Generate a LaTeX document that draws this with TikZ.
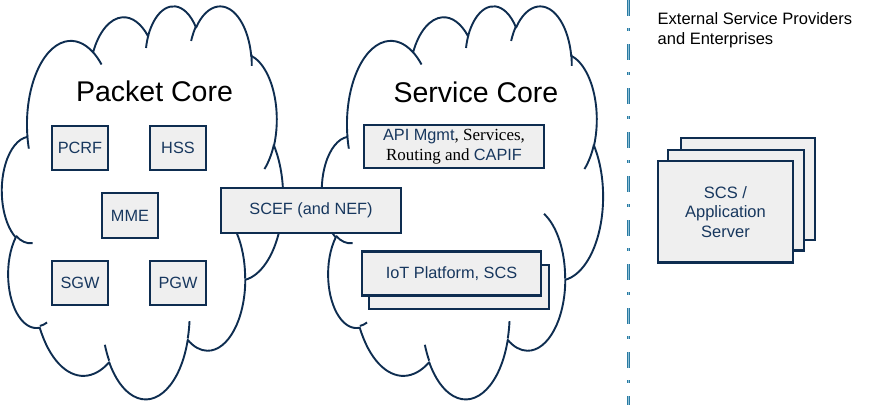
\documentclass[tikz,border=0pt]{standalone}
\usepackage{fontspec}
\setmainfont{Liberation Serif}
\setsansfont{Liberation Sans}
\definecolor{navy}{HTML}{0E2D50}
\definecolor{navytext}{HTML}{17375E}
\definecolor{boxfill}{HTML}{EFEFEF}
\definecolor{sepblue}{HTML}{2A7BA2}
\definecolor{seplight}{HTML}{8FC0D8}
\newcommand\cldprep[5]{%
  \pgfmathsetmacro\cldtmpa{atan2((#2)*sin(#4),(#3)*cos(#4))}%
  \pgfmathsetmacro\cldtmpb{atan2((#2)*sin(#4+(#5)),(#3)*cos(#4+(#5)))}%
  \pgfmathsetmacro\cldtmpd{\cldtmpb-(\cldtmpa)}%
  \pgfmathsetmacro\cldtmpd{\cldtmpd+360*round(((#5)-(\cldtmpd))/360)}%
  \expandafter\xdef\csname clds#1\endcsname{\cldtmpa}%
  \expandafter\xdef\csname cldd#1\endcsname{\cldtmpd}%
}
\cldprep{A}{6.753}{9.190}{-190.4874833}{123.7805333}
\cldprep{B}{5.333}{7.267}{-144.1023833}{89.9452333}
\cldprep{C}{4.365}{5.945}{-145.8079167}{99.7230167}
\cldprep{D}{4.857}{6.595}{-130.9860667}{117.2417333}
\cldprep{E}{5.333}{7.273}{-78.7088833}{109.0269167}
\cldprep{F}{6.775}{9.220}{-46.26725}{130.269}
\cldprep{G}{5.785}{7.867}{0.6250167}{114.0333333}
\cldprep{H}{6.752}{9.215}{22.4516}{115.17255}
\cldprep{I}{7.720}{10.543}{66.2426333}{75.7110167}
\cldprep{J}{4.360}{5.918}{-274.9420833}{146.7355667}
\cldprep{K}{4.345}{5.945}{-246.8285}{152.51885}
\cldprep{L}{4.345}{5.945}{86.742}{26.4295}
\cldprep{M}{4.360}{5.918}{73.61047}{11.44747}
\cldprep{N}{6.752}{9.215}{137.62415}{14.0811}
\cldprep{O}{6.752}{9.215}{6.45327}{15.99835}
\cldprep{P}{5.785}{7.867}{-70.29235}{70.91737}
\cldprep{Q}{5.333}{7.273}{30.31803}{27.7515}
\cldprep{R}{4.857}{6.595}{-13.74433}{14.8589}
\cldprep{S}{4.857}{6.595}{-149.18145}{18.19537}
\cldprep{T}{4.365}{5.945}{-163.49427}{17.68635}
\cldprep{U}{6.753}{9.190}{-66.70695}{12.31935}
\cldprep{V}{6.753}{9.190}{157.65435}{11.85817}
\newcommand\drawcloud[2]{%
\begin{scope}[shift={(#1,#2)}, x=6.50463pt, y=-9.09722pt]
  \filldraw[cloudline, fill=white] (3.9,14.37)
    arc[start angle=\cldsA, delta angle=\clddA, x radius=6.753, y radius=9.190]
    arc[start angle=\cldsB, delta angle=\clddB, x radius=5.333, y radius=7.267]
    arc[start angle=\cldsC, delta angle=\clddC, x radius=4.365, y radius=5.945]
    arc[start angle=\cldsD, delta angle=\clddD, x radius=4.857, y radius=6.595]
    arc[start angle=\cldsE, delta angle=\clddE, x radius=5.333, y radius=7.273]
    arc[start angle=\cldsF, delta angle=\clddF, x radius=6.775, y radius=9.220]
    arc[start angle=\cldsG, delta angle=\clddG, x radius=5.785, y radius=7.867]
    arc[start angle=\cldsH, delta angle=\clddH, x radius=6.752, y radius=9.215]
    arc[start angle=\cldsI, delta angle=\clddI, x radius=7.720, y radius=10.543]
    arc[start angle=\cldsJ, delta angle=\clddJ, x radius=4.360, y radius=5.918]
    arc[start angle=\cldsK, delta angle=\clddK, x radius=4.345, y radius=5.945]
    -- cycle;
  \draw[cloudline]
    (4.693,26.177) arc[start angle=\cldsL, delta angle=\clddL, x radius=4.345, y radius=5.945]
    (6.928,34.899) arc[start angle=\cldsM, delta angle=\clddM, x radius=4.360, y radius=5.918]
    (16.478,39.090) arc[start angle=\cldsN, delta angle=\clddN, x radius=6.752, y radius=9.215]
    (28.827,34.751) arc[start angle=\cldsO, delta angle=\clddO, x radius=6.752, y radius=9.215]
    (34.129,22.954) arc[start angle=\cldsP, delta angle=\clddP, x radius=5.785, y radius=7.867]
    (41.798,15.354) arc[start angle=\cldsQ, delta angle=\clddQ, x radius=5.333, y radius=7.273]
    (38.324,5.426) arc[start angle=\cldsR, delta angle=\clddR, x radius=4.857, y radius=6.595]
    (29.078,3.952) arc[start angle=\cldsS, delta angle=\clddS, x radius=4.857, y radius=6.595]
    (22.141,4.720) arc[start angle=\cldsT, delta angle=\clddT, x radius=4.365, y radius=5.945]
    (14.000,5.192) arc[start angle=\cldsU, delta angle=\clddU, x radius=6.753, y radius=9.190]
    (4.127,15.789) arc[start angle=\cldsV, delta angle=\clddV, x radius=6.753, y radius=9.190];
\end{scope}}
\tikzset{
  cloudline/.style={draw=navy, line width=1.9pt, line join=round},
  nbox/.style={draw=navy, line width=2.2pt, fill=boxfill, text=navytext,
    font=\sffamily\fontsize{16.3}{19}\selectfont, inner sep=0pt, align=center},
  title/.style={font=\sffamily\fontsize{28.5}{32}\selectfont, text=black, inner sep=0pt},
}
\begin{document}
\begin{tikzpicture}[x=1pt, y=-1pt]
\useasboundingbox (0,0) rectangle (879,405);
\fill[white] (0,0) rectangle (879,405);
% clouds
\drawcloud{2}{5}
\drawcloud{322}{5}
% titles
\node[title] (pctitle) at (154.5,91) {Packet Core};
\node[title] (sctitle) at (476,92) {Service Core};
% packet core boxes
\node[nbox, minimum width=56pt, minimum height=44pt] (pcrf) at (80,148) {PCRF};
\node[nbox, minimum width=56pt, minimum height=44pt] (hss) at (178,148) {HSS};
\node[nbox, minimum width=56pt, minimum height=45pt] (mme) at (130,215.5) {MME};
\node[nbox, minimum width=56pt, minimum height=44pt] (sgw) at (80,283) {SGW};
\node[nbox, minimum width=56pt, minimum height=44pt] (pgw) at (178,283) {PGW};
% SCEF
\node[nbox, minimum width=180pt, minimum height=45pt] (scef) at (311,210.5) {SCEF (and NEF)};
% service core boxes
\node[nbox, minimum width=180pt, minimum height=43pt] (api) at (454,146.5)
  {API Mgmt{\rmfamily\color{black}\fontsize{17}{19}\selectfont, Services,}\\[1pt]{\rmfamily\color{black}\fontsize{17}{19}\selectfont Routing and }CAPIF};
\node[nbox, minimum width=180pt, minimum height=44pt] (iotb) at (459,287) {};
\node[nbox, minimum width=179pt, minimum height=44pt] (iot) at (451.5,273.5) {IoT Platform, SCS};
% separator
\coordinate (septop) at (628.5,0);
\coordinate (sepbot) at (628.5,405);
\draw[draw=sepblue, line width=1pt, double=seplight, double distance=0.8pt,
  dash pattern=on 16pt off 12pt on 3pt off 13pt, dash phase=0pt] (septop) -- (sepbot);
% external
\node[anchor=north west, inner sep=0pt, align=left, text=black,
  font=\sffamily\fontsize{16.5}{20}\selectfont] (ext) at (657.5,12.5)
  {External Service Providers\\and Enterprises};
\node[nbox, minimum width=134.5pt, minimum height=101.5pt] (scs3) at (748,189) {};
\node[nbox, minimum width=136pt, minimum height=100.5pt] (scs2) at (736.3,200.3) {};
\node[nbox, minimum width=135.5pt, minimum height=101.5pt, font=\sffamily\fontsize{16.5}{19.5}\selectfont] (scs1) at (725.5,211.7) {SCS /\\Application\\Server};
\end{tikzpicture}
\end{document}
